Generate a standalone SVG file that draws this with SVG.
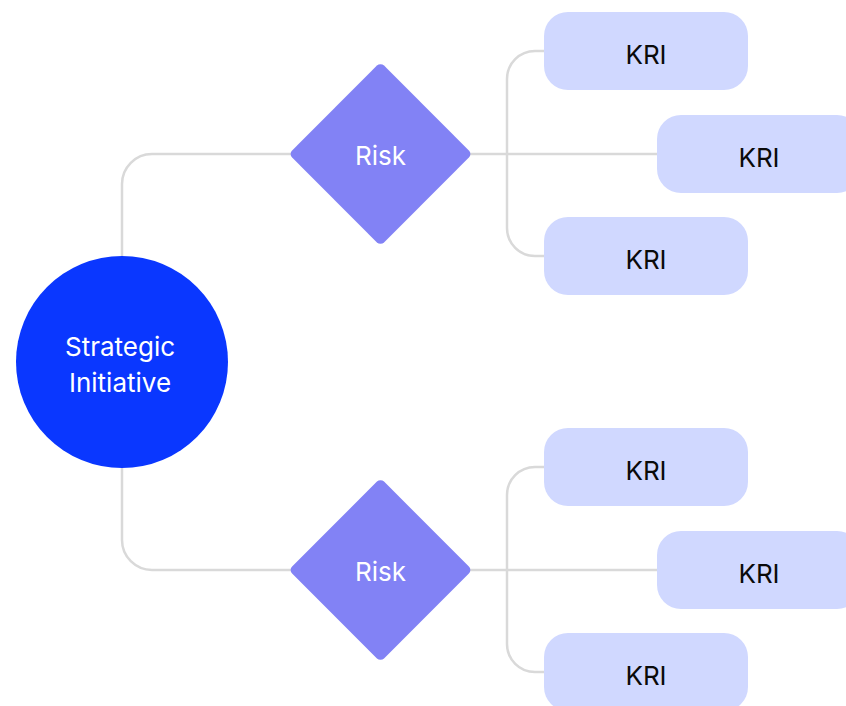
<svg xmlns="http://www.w3.org/2000/svg" width="846" height="706" viewBox="0 0 846 706">
  <style>
    .link { fill: none; stroke: #d9d9d9; stroke-width: 2.5; }
    .kri rect { fill: #d0d8ff; }
    .kri text { fill: #0a0a0a; }
    .risk rect { fill: #8282f5; }
    text { font-family: Inter, "Noto Sans", "Liberation Sans", sans-serif; font-size: 26px; text-anchor: middle; }
    .light { fill: #ffffff; }
  </style>
  <rect width="846" height="706" fill="#ffffff"/>

  <g id="connectors">
    <!-- initiative to risks -->
    <path class="link" d="M122,256 V184 A30,30 0 0 1 152,154 H300"/>
    <path class="link" d="M122,467 V540 A30,30 0 0 0 152,570 H300"/>
    <!-- upper risk to its KRIs -->
    <path class="link" d="M460,154 H660"/>
    <path class="link" d="M548,51 H535 A28,28 0 0 0 507,79 V228 A28,28 0 0 0 535,256 H548"/>
    <!-- lower risk to its KRIs -->
    <path class="link" d="M460,570 H660"/>
    <path class="link" d="M548,467 H535 A28,28 0 0 0 507,495 V644 A28,28 0 0 0 535,672 H548"/>
  </g>

  <g id="initiative">
    <circle cx="122" cy="362" r="106" fill="#0a37ff"/>
    <text class="light" x="120" y="356">Strategic</text>
    <text class="light" x="120" y="392">Initiative</text>
  </g>

  <g id="risk-1" class="risk">
    <rect x="-65" y="-65" width="130" height="130" rx="5" transform="translate(380.5,154) rotate(45)"/>
    <text class="light" x="380.5" y="165">Risk</text>
  </g>
  <g id="risk-2" class="risk">
    <rect x="-65" y="-65" width="130" height="130" rx="5" transform="translate(380.5,570) rotate(45)"/>
    <text class="light" x="380.5" y="581">Risk</text>
  </g>

  <g id="kri-1" class="kri">
    <rect x="544" y="12" width="204" height="78" rx="24"/>
    <text x="646" y="64">KRI</text>
  </g>
  <g id="kri-2" class="kri">
    <rect x="657" y="115" width="204" height="78" rx="24"/>
    <text x="759" y="167">KRI</text>
  </g>
  <g id="kri-3" class="kri">
    <rect x="544" y="217" width="204" height="78" rx="24"/>
    <text x="646" y="269">KRI</text>
  </g>
  <g id="kri-4" class="kri">
    <rect x="544" y="428" width="204" height="78" rx="24"/>
    <text x="646" y="480">KRI</text>
  </g>
  <g id="kri-5" class="kri">
    <rect x="657" y="531" width="204" height="78" rx="24"/>
    <text x="759" y="583">KRI</text>
  </g>
  <g id="kri-6" class="kri">
    <rect x="544" y="633" width="204" height="78" rx="24"/>
    <text x="646" y="685">KRI</text>
  </g>
</svg>
